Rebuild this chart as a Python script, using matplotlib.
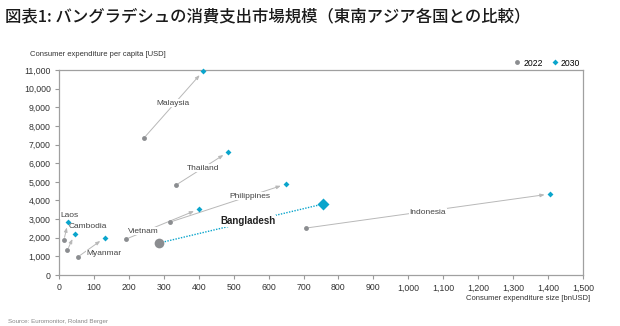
import matplotlib
matplotlib.use("Agg")
import matplotlib.pyplot as plt
from matplotlib.lines import Line2D

# consumer expenditure size [bnUSD] and per capita [USD], 2022 -> 2030
countries = ['Malaysia', 'Thailand', 'Philippines', 'Vietnam', 'Laos', 'Cambodia', 'Myanmar', 'Bangladesh', 'Indonesia']
size_2022 = [243, 335, 318, 192, 14, 24, 54, 287, 707]
capita_2022 = [7350, 4830, 2840, 1930, 1880, 1340, 970, 1720, 2520]
size_2030 = [413, 484, 650, 401, 26, 45, 131, 756, 1406]
capita_2030 = [10950, 6600, 4880, 3540, 2840, 2200, 2000, 3810, 4350]

# where each country name sits
label_x = [326, 412, 547, 240, 31, 83, 129, 541, 1056]
label_y = [9230, 5740, 4240, 2360, 3220, 2590, 1130, 2900, 3380]

x_ticks = list(range(0, 1501, 100))
y_ticks = list(range(0, 11001, 1000))

gray = '#8b8d90'
cyan = '#0aa5cc'
sans = ['Liberation Sans', 'DejaVu Sans']

fig = plt.figure(figsize=(6.2, 3.26), dpi=100)
ax = fig.add_axes([0.0952, 0.1564, 0.845, 0.6286])

for i, name in enumerate(countries):
    focus = name == 'Bangladesh'
    if focus:
        ax.plot([size_2022[i], size_2030[i]], [capita_2022[i], capita_2030[i]],
                color=cyan, lw=1, ls=(0, (1, 1)), zorder=2)
    else:
        ax.annotate('', xy=(size_2030[i], capita_2030[i]), xytext=(size_2022[i], capita_2022[i]),
                    arrowprops=dict(arrowstyle='-|>,head_length=0.25,head_width=0.1', color='#b8b8b8',
                                    lw=0.7, shrinkA=2, shrinkB=4), zorder=2)
    ax.plot(size_2022[i], capita_2022[i], 'o', color=gray, ms=7 if focus else 3.5, mec='none', zorder=4)
    ax.plot(size_2030[i], capita_2030[i], 'D', color=cyan, ms=6 if focus else 3, mec='none', zorder=4,
            clip_on=False)
    ax.text(label_x[i], label_y[i], name, family=sans,
            fontsize=7 if focus else 6, fontweight='bold' if focus else 'normal',
            color='#222222' if focus else '#444444', ha='center', va='center', zorder=3,
            bbox=dict(facecolor='white', edgecolor='none', pad=0.5))

ax.set_xlim(0, 1500)
ax.set_ylim(0, 11000)
ax.set_xticks(x_ticks)
ax.set_yticks(y_ticks)
ax.set_xticklabels([f'{v:,}' for v in x_ticks], family=sans, fontsize=6.3, color='#333333')
ax.set_yticklabels([f'{v:,}' for v in y_ticks], family=sans, fontsize=6.3, color='#333333')
ax.tick_params(length=3, width=0.8, color='#999999', pad=3)
for s in ax.spines.values():
    s.set_color('#a0a0a0')
    s.set_linewidth(0.9)

fig.text(30 / 620, 1 - 55 / 326, 'Consumer expenditure per capita [USD]', family=sans,
         fontsize=5.5, color='#333333', ha='left', va='center')
fig.text(590 / 620, 1 - 299 / 326, 'Consumer expenditure size [bnUSD]', family=sans,
         fontsize=5.5, color='#333333', ha='right', va='center')

handles = [Line2D([], [], marker='o', ls='none', color=gray, ms=3.5, mec='none', label='2022'),
           Line2D([], [], marker='D', ls='none', color=cyan, ms=3, mec='none', label='2030')]
ax.legend(handles=handles, loc='lower right', bbox_to_anchor=(1.0, 1.0), ncol=2, frameon=False,
          prop={'family': sans, 'size': 6.2}, handletextpad=0.1, columnspacing=0.8,
          borderaxespad=0.2, handlelength=1.2, borderpad=0.1)

fig.text(5 / 620, 1 - 17 / 326, '図表1: バングラデシュの消費支出市場規模（東南アジア各国との比較）',
         family=['Noto Sans CJK JP', 'DejaVu Sans'], fontsize=11.8, fontweight='medium',
         color='#1a1a1a', ha='left', va='center')
fig.text(8 / 620, 1 - 321 / 326, 'Source: Euromonitor, Roland Berger', family=sans,
         fontsize=4.5, color='#888888', ha='left', va='center')

fig.savefig('out.png', dpi=100)
